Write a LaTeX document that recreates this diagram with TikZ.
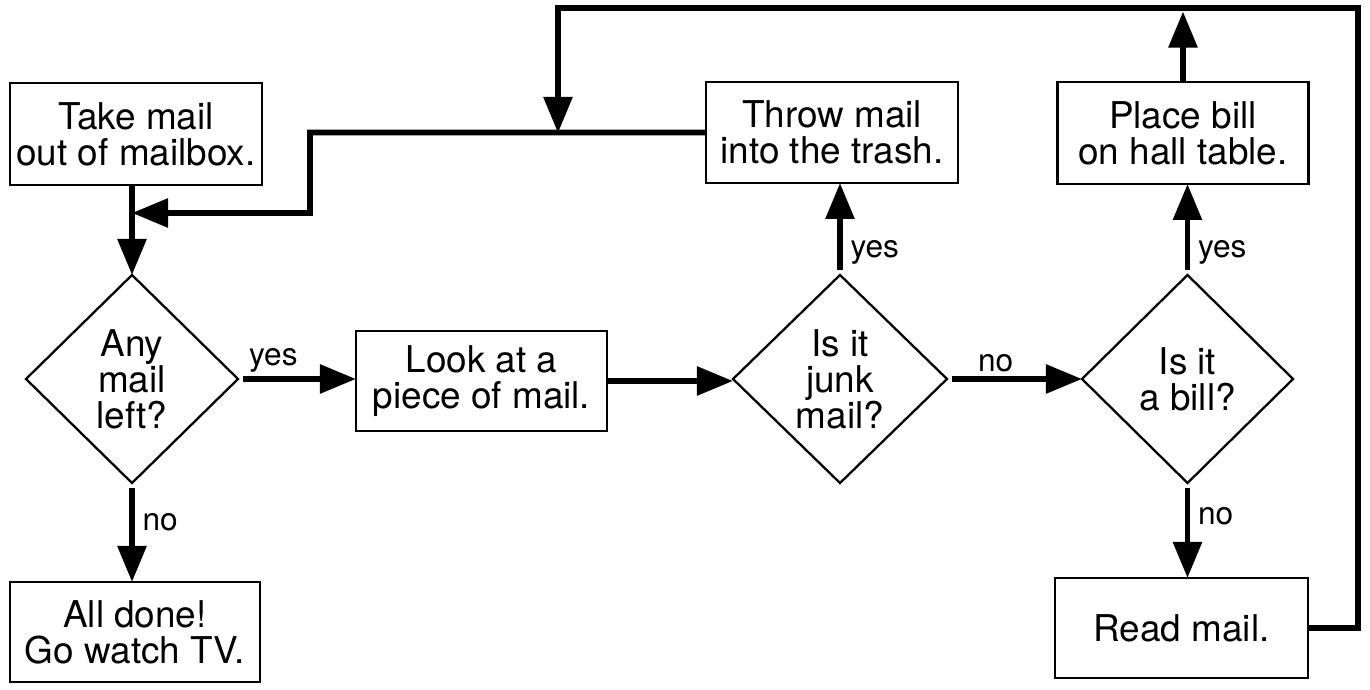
\documentclass[tikz,border=0pt]{standalone}
\usepackage{fontspec}
\setmainfont{TeX Gyre Heros}
\usetikzlibrary{positioning,shapes,arrows.meta}

\begin{document}
\begin{tikzpicture}[scale=0.2,
  box/.style={draw, rectangle, line width=1.4pt, align=center, font=\fontsize{21}{20.5}\selectfont},
  ask/.style={draw, diamond, line width=1.3pt, align=center, minimum width=4.24cm, minimum height=4.16cm, font=\fontsize{21}{20.5}\selectfont},
  flow/.style={line width=3.3pt, -{Triangle[length=0.72cm,width=0.56cm]}},
  lbl/.style={font=\fontsize{18}{18}\selectfont, above, inner sep=4pt},
  side/.style={lbl, right, inner sep=6pt}]
\tikzstyle{every node}+=[inner sep=0pt, outer sep=0pt]
\useasboundingbox (0,0) rectangle (137,-69);
% boxes and questions
\node [box, minimum width=5.04cm, minimum height=2.04cm] (take) at (13.6,-13.4) {Take mail\\out of mailbox.};
\node [ask] (any) at (13.2,-37.9) {Any\\mail\\left?};
\node [box, minimum width=5cm, minimum height=2cm] (done) at (13.5,-63.2) {All done!\\Go watch TV.};
\node [box, minimum width=5.02cm, minimum height=2cm] (look) at (48.15,-38.1) {Look at a\\piece of mail.};
\node [ask, minimum width=4.28cm] (junk) at (84,-37.9) {Is it\\junk\\mail?};
\node [box, minimum width=5.04cm, minimum height=2.02cm] (throw) at (83.2,-13.25) {Throw mail\\into the trash.};
\node [ask, minimum width=4.22cm] (bill) at (118.75,-37.9) {Is it\\a bill?};
\node [box, minimum width=5.02cm, minimum height=2.04cm] (place) at (118.3,-13.3) {Place bill\\on hall table.};
\node [box, minimum width=5.06cm, minimum height=2cm] (read) at (118.15,-62.8) {Read mail.};
% where the loops come back in
\coordinate (merge) at (13.2,-21.3);
\coordinate (drop) at (55.8,-13.3);
\coordinate (corner) at (135.8,-0.8);
% connectors
\draw [flow] (take.south -| any) -- (any.north);
\draw [flow, shorten <=3pt] (any.east) -- node [lbl, pos=0.3] {yes} (any.east -| look.west);
\draw [flow, shorten <=3pt] (any.south) -- node [side, pos=0.4] {no} (any.south |- done.north);
\draw [flow] (look.east) -- (look.east -| junk.west);
\draw [flow, shorten <=3pt] (junk.north) -- node [side, pos=0.25] {yes} (junk.north |- throw.south);
\draw [flow, shorten <=3pt] (junk.east) -- node [lbl, pos=0.36] {no} (bill.west);
\draw [flow, shorten <=3pt] (bill.north) -- node [side, pos=0.25] {yes} (bill.north |- place.south);
\draw [flow, shorten <=3pt] (bill.south) -- node [side, pos=0.35] {no} (bill.south |- read.north);
\draw [flow, shorten >=2pt] (place.north) -- (place.north |- corner);
\draw [flow] (read.east) -| (corner) -| (drop);
\draw [flow] (throw.west) -| (31,-21.3) -- (merge);
\end{tikzpicture}
\end{document}
